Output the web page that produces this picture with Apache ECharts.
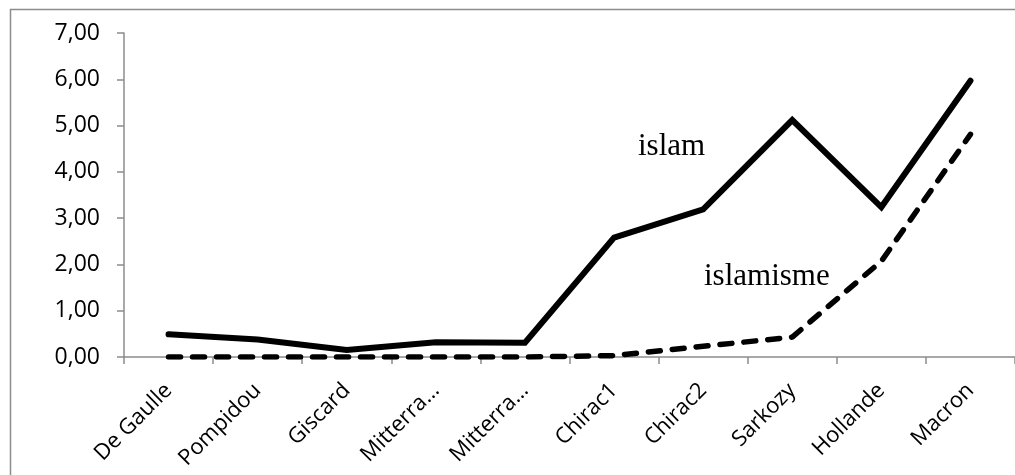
<!DOCTYPE html>
<html><head><meta charset="utf-8">
<script src="https://cdn.jsdelivr.net/npm/echarts@6/dist/echarts.min.js"></script>
<style>html,body{margin:0;padding:0;background:#fff}#c{width:1015px;height:475px}</style>
</head><body><div id="c"></div>
<script>
const categories = ['De Gaulle','Pompidou','Giscard','Mitterra…','Mitterra…','Chirac1','Chirac2','Sarkozy','Hollande','Macron'];
const islam = [0.49, 0.38, 0.15, 0.32, 0.31, 2.58, 3.19, 5.12, 3.24, 5.97];
const islamisme = [0.0, 0.0, 0.0, 0.0, 0.0, 0.03, 0.23, 0.43, 2.07, 4.81];
const yTicks = [0,1,2,3,4,5,6,7];

const chart = echarts.init(document.getElementById('c'), null, {renderer:'canvas'});
const axisGray = '#8c8c8c';
chart.setOption({
  animation:false,
  backgroundColor:'#fff',
  grid:{left:124, top:33, right:-2, bottom:118, containLabel:false},
  xAxis:{
    type:'category', data:categories, boundaryGap:true,
    axisLine:{lineStyle:{color:axisGray, width:1.5}},
    axisTick:{show:true, length:7, interval:0, lineStyle:{color:axisGray, width:1.5}},
    axisLabel:{interval:0, rotate:45, margin:30, color:'#000', fontFamily:'Open Sans', fontSize:22}
  },
  yAxis:{
    type:'value', min:yTicks[0], max:yTicks[yTicks.length-1], interval:1,
    axisLine:{show:true, lineStyle:{color:axisGray, width:1.5}},
    axisTick:{show:true, length:7, lineStyle:{color:axisGray, width:1.5}},
    splitLine:{show:false},
    axisLabel:{margin:24, color:'#000', fontFamily:'Open Sans', fontSize:23,
      formatter:v=>v.toFixed(2).replace('.',',')}
  },
  graphic:[
    {type:'polyline', shape:{points:[[10.5,475],[10.5,9.5],[1015,9.5]]}, style:{stroke:axisGray, lineWidth:1.5, fill:null}, silent:true},
    {type:'text', left:638, top:131, style:{text:'islam', font:'31px "Liberation Serif"', fill:'#000'}},
    {type:'text', left:704, top:261, style:{text:'islamisme', font:'31px "Liberation Serif"', fill:'#000'}}
  ],
  series:[
    {name:'islam', type:'line', data:islam, symbol:'none', lineStyle:{color:'#000', width:6, cap:'round', join:'miter'}, z:3},
    {name:'islamisme', type:'line', data:islamisme, symbol:'none', lineStyle:{color:'#000', width:5.5, type:[12,12], cap:'round'}, z:3}
  ]
});
</script></body></html>
